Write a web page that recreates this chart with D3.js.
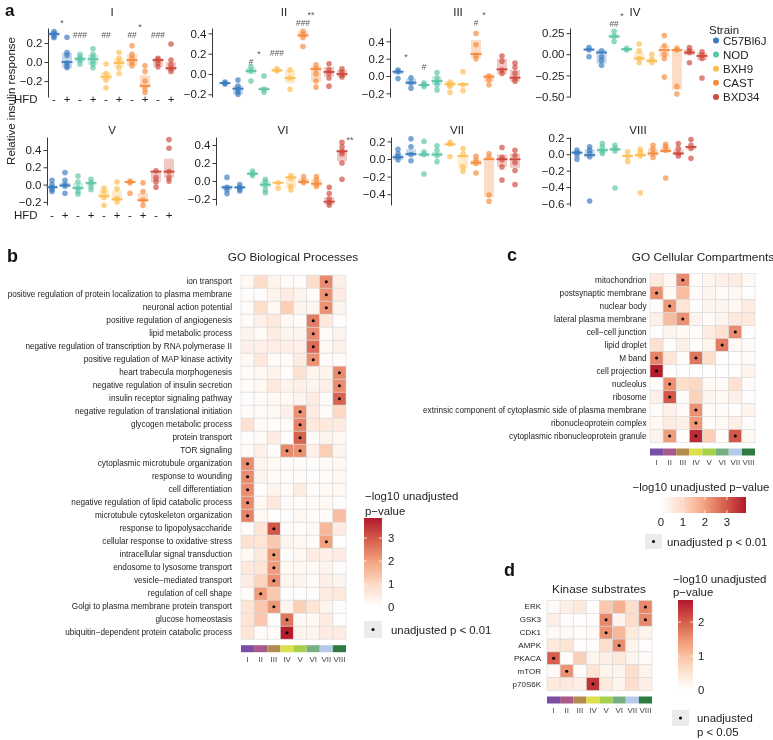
<!DOCTYPE html>
<html><head><meta charset="utf-8">
<script src="https://cdn.jsdelivr.net/npm/d3@7"></script>
<style>body{margin:0;background:#fff}svg{font-family:"Liberation Sans",Arial,sans-serif;will-change:transform}</style>
</head><body><svg id="c" width="773" height="740"></svg>
<script>
// ---------------- DATA ----------------
const strains = ["C57Bl6J","NOD","BXH9","CAST","BXD34"];
const hfdSigns = ["-","+","-","+","-","+","-","+","-","+"];
const clusters = ["I","II","III","IV","V","VI","VII","VIII"];
// each column: [median, boxLow, boxHigh, points]
const cI = [
 [0.295,0.27,0.32,[0.32,0.30,0.27,0.255]],
 [0.0,-0.066,0.10,[0.26,0.10,0.07,-0.01,-0.04,-0.06]],
 [0.035,0.0,0.05,[0.08,0.05,0.03,0.02,-0.02]],
 [0.03,-0.03,0.08,[0.14,0.08,0.05,0.01,-0.02,-0.06]],
 [-0.155,-0.19,-0.11,[-0.02,-0.12,-0.19,-0.27]],
 [-0.01,-0.06,0.04,[0.10,0.04,0.0,-0.06,-0.12]],
 [0.02,-0.04,0.08,[0.17,0.08,0.04,0.0,-0.04]],
 [-0.25,-0.27,-0.14,[-0.04,-0.10,-0.20,-0.28,-0.32]],
 [0.02,-0.05,0.04,[0.04,0.02,-0.01,-0.05]],
 [-0.065,-0.09,0.0,[0.19,0.02,-0.03,-0.07,-0.10]]
];
const cII = [
 [-0.09,-0.10,-0.08,[-0.08,-0.09,-0.10]],
 [-0.145,-0.20,-0.115,[-0.06,-0.12,-0.15,-0.18,-0.20]],
 [0.03,0.0,0.06,[0.07,0.03,-0.07]],
 [-0.15,-0.16,-0.13,[-0.02,-0.15,-0.18]],
 [0.035,0.02,0.05,[0.05,0.03]],
 [-0.04,-0.09,0.04,[0.04,-0.04,-0.15]],
 [0.38,0.36,0.42,[0.42,0.39,0.36,0.27]],
 [0.05,-0.075,0.08,[0.09,0.05,0.0,-0.07,-0.13]],
 [0.02,-0.026,0.07,[0.10,0.04,0.01,-0.04,-0.12]],
 [0.0,-0.03,0.04,[0.05,0.02,-0.01,-0.03]]
];
const cIII = [
 [0.05,0.02,0.06,[0.07,0.05,-0.03]],
 [-0.077,-0.10,-0.03,[-0.02,-0.08,-0.14]],
 [-0.104,-0.11,-0.09,[-0.08,-0.10,-0.12]],
 [-0.058,-0.104,-0.008,[0.04,-0.02,-0.07,-0.10,-0.16]],
 [-0.092,-0.12,-0.06,[-0.07,-0.10,-0.12,-0.19]],
 [-0.096,-0.11,-0.08,[0.05,-0.10,-0.17]],
 [0.254,0.204,0.415,[0.49,0.36,0.24,0.20]],
 [-0.008,-0.07,0.02,[0.0,-0.04,-0.10]],
 [0.077,0.02,0.20,[0.23,0.17,0.07,0.03]],
 [-0.019,-0.065,0.07,[0.15,0.10,0.03,-0.03,-0.06]]
];
const cIV = [
 [0.055,0.04,0.07,[0.08,0.05,-0.03]],
 [0.02,-0.11,0.05,[0.04,-0.03,-0.07,-0.13]],
 [0.21,0.19,0.24,[0.27,0.21,0.15]],
 [0.06,0.04,0.07,[0.07,0.05]],
 [-0.05,-0.07,0.03,[0.12,0.04,-0.05,-0.10]],
 [-0.08,-0.10,-0.05,[0.0,-0.06,-0.10]],
 [0.05,-0.03,0.10,[0.22,0.10,0.0,-0.05,-0.27]],
 [0.05,-0.42,0.06,[0.07,0.05,-0.38,-0.47]],
 [0.02,-0.01,0.06,[0.08,0.04,0.02,-0.10]],
 [-0.02,-0.07,0.02,[0.03,-0.01,-0.05,-0.28]]
];
const cV = [
 [-0.03,-0.05,-0.01,[0.05,0.0,-0.03,-0.06,-0.08]],
 [-0.01,-0.03,0.02,[0.14,0.05,0.0,-0.02,-0.10]],
 [-0.04,-0.06,0.02,[0.10,0.03,-0.04,-0.08,-0.11]],
 [0.02,-0.01,0.03,[0.06,0.02,-0.02,-0.06]],
 [-0.13,-0.16,-0.06,[-0.04,-0.08,-0.15,-0.24]],
 [-0.17,-0.19,-0.07,[0.03,-0.05,-0.16,-0.20]],
 [0.03,0.02,0.04,[0.04,0.02,-0.10]],
 [-0.18,-0.20,-0.10,[0.02,-0.08,-0.18,-0.24]],
 [0.15,0.03,0.16,[0.16,0.08,0.03,-0.03]],
 [0.15,0.08,0.30,[0.52,0.42,0.15,0.08,0.04]]
];
const cVI = [
 [-0.07,-0.10,-0.05,[0.04,-0.07,-0.10,-0.14]],
 [-0.07,-0.09,-0.06,[-0.04,-0.07,-0.09,-0.11]],
 [0.08,0.07,0.10,[0.11,0.08,0.06]],
 [-0.04,-0.07,0.0,[0.02,-0.01,-0.05,-0.10,-0.13]],
 [-0.02,-0.03,-0.01,[-0.02,-0.08]],
 [0.04,-0.08,0.06,[0.06,0.03,-0.06,-0.10]],
 [-0.01,-0.03,0.03,[0.05,0.0,-0.02]],
 [-0.03,-0.06,0.02,[0.05,0.01,-0.03,-0.06]],
 [-0.23,-0.26,-0.18,[-0.07,-0.14,-0.20,-0.24,-0.27]],
 [0.33,0.22,0.35,[0.43,0.38,0.33,0.30,0.20,0.02]]
];
const cVII = [
 [0.02,-0.01,0.05,[0.11,0.06,0.03,-0.01]],
 [0.057,0.03,0.11,[0.23,0.14,0.05,-0.02]],
 [0.05,0.03,0.07,[0.20,0.08,0.05,-0.17]],
 [0.05,0.03,0.08,[0.15,0.10,0.04,-0.03]],
 [0.167,0.15,0.18,[0.19,0.17,0.025]],
 [0.033,-0.11,0.05,[0.12,0.06,-0.09,-0.14]],
 [-0.042,-0.07,-0.01,[0.03,-0.01,-0.05,-0.16]],
 [-0.003,-0.43,0.02,[0.06,0.02,-0.41,-0.48]],
 [-0.003,-0.09,0.05,[0.13,0.02,-0.01,-0.09,-0.24]],
 [-0.003,-0.10,0.06,[0.10,0.04,-0.04,-0.13,-0.29]]
];
const cVIII = [
 [0.02,0.0,0.04,[0.05,0.02,-0.01,-0.06]],
 [-0.01,-0.04,0.06,[0.09,0.05,0.01,-0.03,-0.57]],
 [0.05,0.02,0.08,[0.13,0.09,0.03,0.01]],
 [0.06,0.04,0.08,[0.11,0.07,0.04,-0.41]],
 [-0.02,-0.03,0.0,[0.03,-0.03,-0.09]],
 [-0.01,-0.03,0.02,[0.06,0.03,-0.02,-0.47]],
 [0.01,-0.02,0.07,[0.11,0.06,0.01,-0.04]],
 [0.04,0.02,0.09,[0.12,0.09,0.05,-0.29]],
 [0.01,-0.01,0.06,[0.13,0.07,0.01,-0.02]],
 [0.09,0.06,0.10,[0.18,0.11,0.07,-0.05]]
];
const clusterData = [cI,cII,cIII,cIV,cV,cVI,cVII,cVIII];
// significance annotations: [column, label, y value]
const sigI = [[0,"*",0.41],[2,"###",0.284],[4,"##",0.284],[6,"##",0.284],[6,"*",0.37],[8,"###",0.284]];
const sigII = [[2,"#",0.118],[2,"*",0.197],[4,"###",0.207],[6,"###",0.502],[6,"**",0.585]];
const sigIII = [[0,"*",0.219],[2,"#",0.104],[6,"#",0.611],[6,"*",0.705]];
const sigIV = [[2,"##",0.355],[2,"*",0.45]];
const sigV = [];
const sigVI = [[9,"**",0.46]];
const sigVII = [];
const sigVIII = [];
const sigs = [sigI,sigII,sigIII,sigIV,sigV,sigVI,sigVII,sigVIII];
// y-axis limits & ticks
const yLimits = [[-0.368,0.358],[-0.227,0.453],[-0.242,0.554],[-0.505,0.31],[-0.236,0.55],[-0.267,0.489],[-0.523,0.25],[-0.63,0.21]];
const yTicks = [[-0.2,0,0.2],[-0.2,0,0.2,0.4],[-0.2,0,0.2,0.4],[-0.5,-0.25,0,0.25],[-0.2,0,0.2,0.4],[-0.2,0,0.2,0.4],[-0.4,-0.2,0,0.2],[-0.6,-0.4,-0.2,0,0.2]];
const yTickDecimals = [1,1,1,2,1,1,1,1];

// Heatmap b
const bpTerms = ["ion transport","positive regulation of protein localization to plasma membrane","neuronal action potential","positive regulation of angiogenesis","lipid metabolic process","negative regulation of transcription by RNA polymerase II","positive regulation of MAP kinase activity","heart trabecula morphogenesis","negative regulation of insulin secretion","insulin receptor signaling pathway","negative regulation of translational initiation","glycogen metabolic process","protein transport","TOR signaling","cytoplasmic microtubule organization","response to wounding","cell differentiation","negative regulation of lipid catabolic process","microtubule cytoskeleton organization","response to lipopolysaccharide","cellular response to oxidative stress","intracellular signal transduction","endosome to lysosome transport","vesicle\u2212mediated transport","regulation of cell shape","Golgi to plasma membrane protein transport","glucose homeostasis","ubiquitin\u2212dependent protein catabolic process"];
const bpValues = [
 [0.2,0.9,0.3,0.1,0.1,0.9,2.3,0.4],
 [0.05,0.05,0.3,0.5,0.3,0.05,2.2,0.5],
 [0.1,0.9,0.2,1.2,0.3,0.3,2.2,0.3],
 [0.1,0.4,0.6,0.2,0.1,2.5,0.6,0.05],
 [0.3,0.1,0.5,0.3,0.3,2.3,0.1,0.3],
 [0.4,0.4,0.45,0.4,0.4,2.7,0.2,0.4],
 [0.2,0.6,0.1,0.1,0.5,2.2,0.1,0.1],
 [0.1,0.2,0.3,0.1,0.8,0.3,0.3,2.3],
 [0.1,0.2,0.6,0.3,0.4,0.3,0.4,2.3],
 [0.05,0.1,0.2,0.2,0.3,0.5,0.1,2.85],
 [0.1,0.1,0.2,0.4,2.2,0.5,0.1,1.0],
 [0.8,0.1,0.05,0.1,2.4,0.6,0.6,0.5],
 [0.05,0.1,0.5,0.05,2.85,0.1,0.3,0.2],
 [0.1,0.4,0.1,2.3,2.2,0.4,1.2,0.3],
 [2.3,0.3,0.2,0.1,0.1,0.05,0.1,0.2],
 [2.3,0.3,0.1,0.05,0.1,0.05,0.1,0.2],
 [2.3,0.05,0.3,0.1,0.5,0.05,0.2,0.2],
 [2.3,0.2,0.6,0.1,0.1,0.1,0.2,0.05],
 [2.4,0.2,0.05,0.05,0.2,0.05,0.1,1.5],
 [0.05,0.7,3.0,0.05,0.05,0.2,1.6,0.5],
 [0.8,0.7,1.3,0.3,0.2,0.05,2.0,0.05],
 [0.2,0.6,2.05,0.05,0.2,0.5,0.4,0.5],
 [0.6,0.7,2.05,0.2,0.2,0.2,0.3,0.05],
 [0.5,1.1,2.2,0.3,0.3,0.1,0.4,0.3],
 [0.1,2.05,1.3,0.05,0.05,0.05,0.5,0.6],
 [0.7,1.3,2.1,0.3,1.2,0.7,0.3,0.05],
 [0.7,1.3,0.05,2.6,0.2,0.2,0.5,0.05],
 [0.7,0.1,0.1,3.8,0.3,0.3,0.5,0.5]
];
// Heatmap c
const ccTerms = ["mitochondrion","postsynaptic membrane","nuclear body","lateral plasma membrane","cell\u2212cell junction","lipid droplet","M band","cell projection","nucleolus","ribosome","extrinsic component of cytoplasmic side of plasma membrane","ribonucleoprotein complex","cytoplasmic ribonucleoprotein granule"];
const ccValues = [
 [0.6,0.2,2.3,0.05,0.3,0.4,0.5,0.2],
 [2.2,0.2,1.5,0.1,0.3,0.1,0.2,0.05],
 [0.05,2.1,0.7,0.05,0.3,0.3,0.2,0.5],
 [0.4,1.5,2.2,0.3,0.1,0.3,0.6,0.6],
 [0.05,0.3,0.2,0.05,0.5,0.8,2.3,0.05],
 [0.8,0.05,0.4,0.05,0.3,2.5,0.2,0.1],
 [2.4,0.7,0.1,2.6,0.9,0.05,0.05,0.1],
 [3.8,0.05,0.05,0.05,0.05,0.05,0.05,0.3],
 [0.1,2.2,0.9,1.0,0.2,0.1,0.8,0.1],
 [0.4,3.0,0.1,1.1,0.3,0.2,0.4,0.05],
 [0.1,0.4,0.1,2.2,0.1,0.1,0.05,0.3],
 [0.2,0.5,0.4,2.1,0.1,0.2,0.4,0.05],
 [0.3,2.05,0.05,3.6,1.2,0.05,3.0,0.2]
];
// Heatmap d
const kinases = ["ERK","GSK3","CDK1","AMPK","PKACA","mTOR","p70S6K"];
const kinValues = [
 [0.1,0.3,0.4,0.05,0.9,1.2,0.6,1.6],
 [0.3,0.05,0.05,0.05,1.6,0.2,0.6,1.6],
 [0.1,0.1,0.05,0.1,1.5,1.1,0.4,0.2],
 [0.4,0.5,0.05,0.05,0.6,1.55,0.2,0.05],
 [2.0,0.05,0.8,0.2,0.3,0.4,0.2,0.1],
 [0.1,1.5,0.05,0.5,0.2,0.2,0.6,0.2],
 [0.4,0.4,0.3,2.4,0.4,0.2,0.6,0.3]
];
const bcTicks = [0,1,2,3];
const dTicks = [0,1,2];

// ---------------- STYLE ----------------
const strainColors = ["#3b7cc0","#5cc5a7","#fdbd4f","#f68b3c","#cf4a3c"];
const clusterColors = ["#7b4ea6","#a8598c","#b38b4f","#dbe04b","#a6cf4b","#77af83","#b3cbe9","#2c7c41"];
const heatStops = ["#ffffff","#fddbc7","#f4a582","#d6604d","#b2182b"];
const minus = s => s.replace(/-/g,"\u2212");
const FA = 11.5;   // panel a font size
const FL = 11.4;   // legend font size

const svg = d3.select("#c");

// ---------------- PANEL A ----------------
const stripLayout = [
 {axisX:48, x0:54, x1:171, top:28, bottom:97, tX:112, tY:12, hY:99},
 {axisX:212, x0:225, x1:342, top:28, bottom:97, tX:284, tY:12},
 {axisX:390, x0:398, x1:515, top:28, bottom:97, tX:458, tY:12},
 {axisX:570, x0:589, x1:702, top:28, bottom:97, tX:635, tY:12},
 {axisX:47, x0:52, x1:169, top:137, bottom:205, tX:112, tY:130, hY:215},
 {axisX:216, x0:227, x1:342, top:137, bottom:205, tX:283, tY:130},
 {axisX:391, x0:398, x1:515, top:137, bottom:205, tX:457, tY:130},
 {axisX:570, x0:577, x1:691, top:137, bottom:206, tX:638, tY:130}
];
clusterData.forEach((data,k)=>{
  const L = stripLayout[k];
  const g = svg.append("g");
  const y = d3.scaleLinear().domain(yLimits[k]).range([L.bottom,L.top]);
  const x = d3.scalePoint().domain(d3.range(10)).range([L.x0,L.x1]);
  const fmt = d => minus(d3.format("."+yTickDecimals[k]+"f")(d));
  const ax = g.append("g").attr("transform",`translate(${L.axisX},0)`)
    .call(d3.axisLeft(y).tickValues(yTicks[k]).tickFormat(fmt).tickSize(3.5).tickSizeOuter(0).tickPadding(2));
  ax.select(".domain").attr("stroke","#222").attr("stroke-width",0.9);
  ax.selectAll(".tick line").attr("stroke","#222").attr("stroke-width",0.9);
  ax.selectAll(".tick text").attr("font-size",FA).attr("fill","#222").attr("font-family","Liberation Sans, Arial, sans-serif");
  g.append("text").attr("x",L.tX).attr("y",L.tY).attr("text-anchor","middle").attr("dominant-baseline","central")
    .attr("font-size",FA).attr("fill","#222").text(clusters[k]);
  data.forEach((c,i)=>{
    const col = strainColors[Math.floor(i/2)];
    const cx = x(i);
    g.append("rect").attr("x",cx-5).attr("width",10).attr("y",y(c[2])).attr("height",Math.max(1,y(c[1])-y(c[2])))
      .attr("fill",col).attr("opacity",0.3);
    c[3].forEach(v=>{
      g.append("circle").attr("cx",cx).attr("cy",y(v)).attr("r",2.8).attr("fill",col).attr("opacity",0.68);
    });
    g.append("line").attr("x1",cx-5.5).attr("x2",cx+5.5).attr("y1",y(c[0])).attr("y2",y(c[0]))
      .attr("stroke",col).attr("stroke-width",1.8);
  });
  sigs[k].forEach(s=>{
    const isStar = s[1][0]==="*";
    g.append("text").attr("x",x(s[0])+(isStar?8:0)).attr("y",y(s[2])).attr("text-anchor","middle")
      .attr("dominant-baseline","central").attr("font-size",isStar?9:8.3).attr("fill","#555")
      .text(s[1]);
  });
  if(L.hY){
    g.append("text").attr("x",14).attr("y",L.hY).attr("dominant-baseline","central").attr("font-size",FA).attr("fill","#222").text("HFD");
    hfdSigns.forEach((s,i)=>{
      g.append("text").attr("x",x(i)).attr("y",L.hY).attr("text-anchor","middle").attr("dominant-baseline","central")
        .attr("font-size",FA).attr("fill","#222").text(s);
    });
  }
});
svg.append("text").attr("transform","translate(11,101) rotate(-90)").attr("text-anchor","middle")
  .attr("dominant-baseline","central").attr("font-size",FA).attr("fill","#222").text("Relative insulin response");
// strain legend
svg.append("text").attr("x",709).attr("y",30).attr("dominant-baseline","central").attr("font-size",FA).attr("fill","#222").text("Strain");
strains.forEach((s,i)=>{
  const ly = 40.5+i*14.1;
  svg.append("circle").attr("cx",716).attr("cy",ly).attr("r",3).attr("fill",strainColors[i]);
  svg.append("text").attr("x",723).attr("y",ly).attr("dominant-baseline","central").attr("font-size",FA).attr("fill","#222").text(s);
});

// ---------------- HEATMAPS ----------------
function heatColor(max){
  return d3.scaleLinear().domain(d3.range(5).map(i=>i*max/4)).range(heatStops).interpolate(d3.interpolateRgb).clamp(true);
}
function heatmap(opt){
  const g = svg.append("g");
  const x = d3.scaleBand().domain(d3.range(8)).range([opt.left,opt.right]);
  const y = d3.scaleBand().domain(d3.range(opt.terms.length)).range([opt.top,opt.bottom]);
  const color = heatColor(opt.max);
  opt.values.forEach((row,r)=>{
    row.forEach((v,c)=>{
      g.append("rect").attr("x",x(c)).attr("y",y(r)).attr("width",x.bandwidth()).attr("height",y.bandwidth())
        .attr("fill",color(v)).attr("stroke","#d9d9d9").attr("stroke-width",0.6);
    });
  });
  opt.values.forEach((row,r)=>{
    row.forEach((v,c)=>{
      if(v>=opt.thr) g.append("circle").attr("cx",x(c)+x.bandwidth()/2).attr("cy",y(r)+y.bandwidth()/2).attr("r",1.5).attr("fill","#000");
    });
  });
  opt.terms.forEach((t,r)=>{
    g.append("text").attr("x",opt.left-opt.gap).attr("y",y(r)+y.bandwidth()/2).attr("text-anchor","end")
      .attr("dominant-baseline","central").attr("font-size",opt.fs).attr("fill","#222").text(t);
  });
  clusters.forEach((c,i)=>{
    g.append("rect").attr("x",x(i)).attr("y",opt.bottom+6).attr("width",x.bandwidth()).attr("height",7).attr("fill",clusterColors[i]);
    g.append("text").attr("x",x(i)+x.bandwidth()/2).attr("y",opt.bottom+20).attr("text-anchor","middle")
      .attr("dominant-baseline","central").attr("font-size",8).attr("fill","#444").text(c);
  });
  g.append("text").attr("x",opt.titleX).attr("y",opt.titleY).attr("text-anchor","middle").attr("dominant-baseline","central")
    .attr("font-size",11.8).attr("fill","#222").text(opt.title);
}
heatmap({terms:bpTerms,values:bpValues,left:241,right:346,top:275.2,bottom:639.2,max:3.87,thr:2,gap:9,fs:8.2,title:"GO Biological Processes",titleX:293,titleY:257});
heatmap({terms:ccTerms,values:ccValues,left:650,right:755,top:273.5,bottom:442.5,max:3.87,thr:2,gap:3.5,fs:8.2,title:"GO Cellular Compartments",titleX:703,titleY:257});
heatmap({terms:kinases,values:kinValues,left:547,right:652,top:600.5,bottom:690.5,max:2.65,thr:1.301,gap:6,fs:8,title:"Kinase substrates",titleX:599,titleY:589});

// panel letters
[["a",5,16,17],["b",7,262,18],["c",507,261,18],["d",504,576,18]].forEach(p=>{
  svg.append("text").attr("x",p[1]).attr("y",p[2]).attr("font-size",p[3]).attr("font-weight","bold").attr("fill","#111").text(p[0]);
});

// ---------------- COLOR LEGENDS ----------------
const defs = svg.append("defs");
function gradient(id,max,vertical){
  const gr = defs.append("linearGradient").attr("id",id)
    .attr("x1",0).attr("y1",vertical?1:0).attr("x2",vertical?0:1).attr("y2",0);
  const col = heatColor(max);
  d3.range(0,1.0001,0.05).forEach(t=>gr.append("stop").attr("offset",t).attr("stop-color",col(t*max)));
}
gradient("gb",3.87,true); gradient("gc",3.87,false); gradient("gd",2.65,true);
function keyBox(x,y,w,h){
  svg.append("rect").attr("x",x).attr("y",y).attr("width",w).attr("height",h).attr("fill","#ebebeb");
  svg.append("circle").attr("cx",x+w/2).attr("cy",y+h/2).attr("r",1.5).attr("fill","#000");
}
function label(x,y,t,anchor){
  svg.append("text").attr("x",x).attr("y",y).attr("text-anchor",anchor||"start").attr("dominant-baseline","central")
    .attr("font-size",FL).attr("fill","#222").text(t);
}
// b legend (vertical)
{
  const top=518,bot=607,x0=364,w=18,max=3.87;
  label(365,496,"\u2212log10 unadjusted");
  label(365,511,"p\u2212value");
  svg.append("rect").attr("x",x0).attr("y",top).attr("width",w).attr("height",bot-top).attr("fill","url(#gb)");
  const s = d3.scaleLinear().domain([0,max]).range([bot,top]);
  bcTicks.forEach(t=>{
    svg.append("line").attr("x1",x0+w-3).attr("x2",x0+w).attr("y1",s(t)).attr("y2",s(t)).attr("stroke","#fff").attr("stroke-width",0.8);
    svg.append("line").attr("x1",x0).attr("x2",x0+3).attr("y1",s(t)).attr("y2",s(t)).attr("stroke","#fff").attr("stroke-width",0.8);
    label(x0+w+6,s(t),t);
  });
  keyBox(364,621,18,17);
  label(391,629.5,"unadjusted p < 0.01");
}
// c legend (horizontal)
{
  const l=661,r=746,top=497,h=16,max=3.87;
  label(701,487,"\u2212log10 unadjusted p\u2212value","middle");
  svg.append("rect").attr("x",l).attr("y",top).attr("width",r-l).attr("height",h).attr("fill","url(#gc)");
  const s = d3.scaleLinear().domain([0,max]).range([l,r]);
  bcTicks.forEach(t=>{
    svg.append("line").attr("x1",s(t)).attr("x2",s(t)).attr("y1",top+h-3).attr("y2",top+h).attr("stroke","#fff").attr("stroke-width",0.8);
    svg.append("line").attr("x1",s(t)).attr("x2",s(t)).attr("y1",top).attr("y2",top+3).attr("stroke","#fff").attr("stroke-width",0.8);
    label(s(t),top+h+9,t,"middle");
  });
  keyBox(645,534,17,15);
  label(667,541.5,"unadjusted p < 0.01");
}
// d legend (vertical)
{
  const top=600,bot=690,x0=678,w=15,max=2.65;
  label(673,579,"\u2212log10 unadjusted");
  label(673,592,"p\u2212value");
  svg.append("rect").attr("x",x0).attr("y",top).attr("width",w).attr("height",bot-top).attr("fill","url(#gd)");
  const s = d3.scaleLinear().domain([0,max]).range([bot,top]);
  dTicks.forEach(t=>{
    svg.append("line").attr("x1",x0+w-3).attr("x2",x0+w).attr("y1",s(t)).attr("y2",s(t)).attr("stroke","#fff").attr("stroke-width",0.8);
    svg.append("line").attr("x1",x0).attr("x2",x0+3).attr("y1",s(t)).attr("y2",s(t)).attr("stroke","#fff").attr("stroke-width",0.8);
    label(x0+w+5,s(t),t);
  });
  keyBox(672,710,17,16);
  label(697,718,"unadjusted");
  label(697,732,"p < 0.05");
}
</script></body></html>
